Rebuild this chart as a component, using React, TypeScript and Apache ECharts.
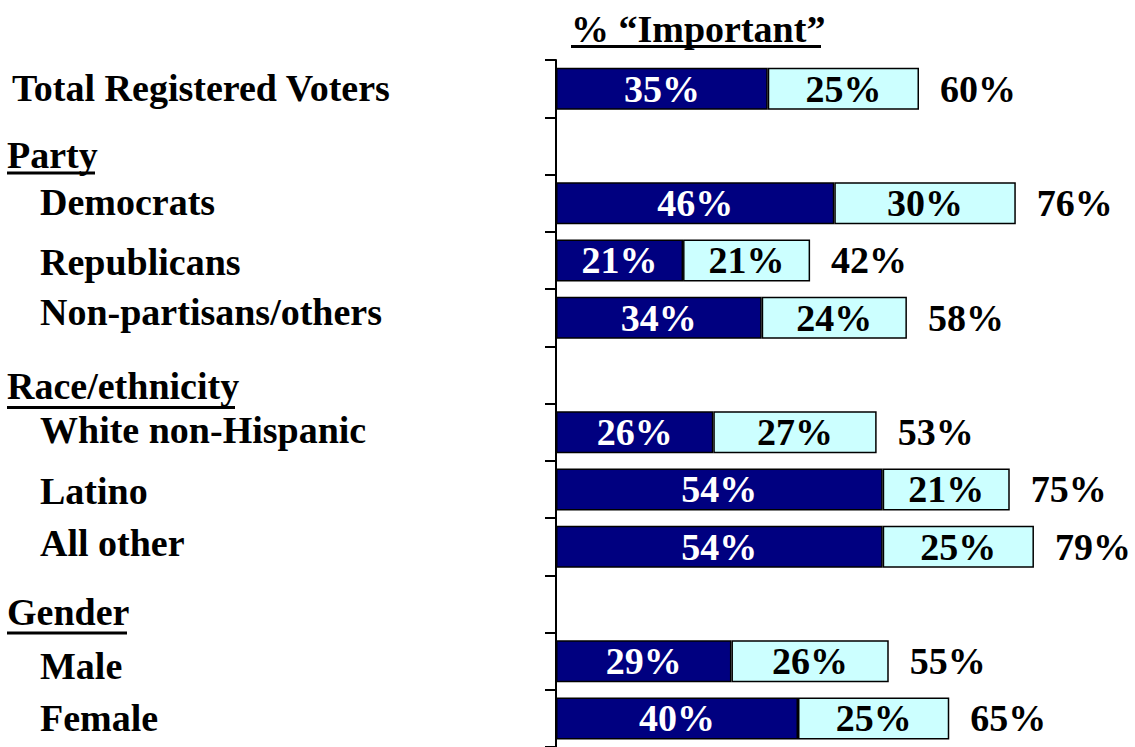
import React, { useEffect, useRef } from "react";
import * as echarts from "echarts";

const categories = [
  "Total Registered Voters",
  "Party",
  "Democrats",
  "Republicans",
  "Non-partisans/others",
  "Race/ethnicity",
  "White non-Hispanic",
  "Latino",
  "All other",
  "Gender",
  "Male",
  "Female",
];
const rowKinds = ["total", "header", "item", "item", "item", "header", "item", "item", "item", "header", "item", "item"];
const veryImportant = [35, null, 46, 21, 34, null, 26, 54, 54, null, 29, 40];
const somewhatImportant = [25, null, 30, 21, 24, null, 27, 21, 25, null, 26, 25];
const totalImportant = [60, null, 76, 42, 58, null, 53, 75, 79, null, 55, 65];
const titleText = "% \u201cImportant\u201d";

const FONT = '"Liberation Serif", "Times New Roman", serif';
const FS = 38;
const labelShift = [-1, 9.5, -1, 2, -6, 11, -2, 2, -4, 8, 5, 0];
const indentOf: Record<string, number> = { total: 5, header: 0, item: 33 };

export default function App() {
  const ref = useRef<HTMLDivElement>(null);
  useEffect(() => {
    if (!ref.current) return;
    const chart = echarts.init(ref.current, undefined, { renderer: "svg" });
    const rich: Record<string, any> = {};
    categories.forEach((_, i) => {
      const s = labelShift[i];
      rich["r" + i] = {
        fontFamily: FONT,
        fontWeight: "bold",
        fontSize: FS,
        color: "#000",
        padding: [s > 0 ? 2 * s : 0, 0, s < 0 ? -2 * s : 0, indentOf[rowKinds[i]]],
      };
    });
    const valueLabel = {
      fontFamily: FONT,
      fontWeight: "bold" as const,
      fontSize: FS,
    };
    chart.setOption({
      animation: false,
      backgroundColor: "#fff",
      grid: { left: 556, top: 60, width: 484, height: 694 },
      xAxis: { type: "value", min: 0, max: 80, show: false },
      yAxis: {
        type: "category",
        inverse: true,
        data: categories,
        axisLine: { show: true, lineStyle: { color: "#000", width: 2 } },
        axisTick: { show: true, length: 11, lineStyle: { color: "#000", width: 2 } },
        axisLabel: {
          align: "left",
          margin: 549,
          interval: 0,
          formatter: (v: string, i: number) => `{r${i}|${v}}`,
          rich,
        },
      },
      title: {
        text: titleText,
        left: 566,
        top: 5,
        textStyle: { fontFamily: FONT, fontWeight: "bold", fontSize: FS, color: "#000" },
      },
      graphic: [
        { type: "line", shape: { x1: 571, y1: 46.5, x2: 821, y2: 46.5 }, style: { stroke: "#000", lineWidth: 3 } },
        { type: "line", shape: { x1: 7, y1: 173, x2: 95, y2: 173 }, style: { stroke: "#000", lineWidth: 3 } },
        { type: "line", shape: { x1: 7, y1: 407.5, x2: 235, y2: 407.5 }, style: { stroke: "#000", lineWidth: 3 } },
        { type: "line", shape: { x1: 7, y1: 633, x2: 127, y2: 633 }, style: { stroke: "#000", lineWidth: 3 } },
      ],
      series: [
        {
          name: "Very important",
          type: "bar",
          stack: "imp",
          barWidth: 42,
          data: veryImportant,
          itemStyle: { color: "#000080", borderColor: "#000", borderWidth: 1.5 },
          label: { show: true, position: "inside", color: "#fff", ...valueLabel, formatter: "{c}%" },
        },
        {
          name: "Somewhat important",
          type: "bar",
          stack: "imp",
          barWidth: 42,
          data: somewhatImportant,
          itemStyle: { color: "#CCFFFF", borderColor: "#000", borderWidth: 1.5 },
          label: { show: true, position: "inside", color: "#000", ...valueLabel, formatter: "{c}%" },
        },
        {
          name: "Total",
          type: "bar",
          stack: "imp",
          barWidth: 42,
          data: totalImportant.map((t) => (t == null ? null : 0)),
          itemStyle: { color: "transparent", borderWidth: 0 },
          label: {
            show: true,
            position: "right",
            distance: 21,
            color: "#000",
            ...valueLabel,
            formatter: (p: any) => `${totalImportant[p.dataIndex]}%`,
          },
        },
      ],
    });
    return () => chart.dispose();
  }, []);
  return (
    <div
      ref={ref}
      style={{ position: "fixed", left: 0, top: 0, width: 1135, height: 747, background: "#fff" }}
    />
  );
}
